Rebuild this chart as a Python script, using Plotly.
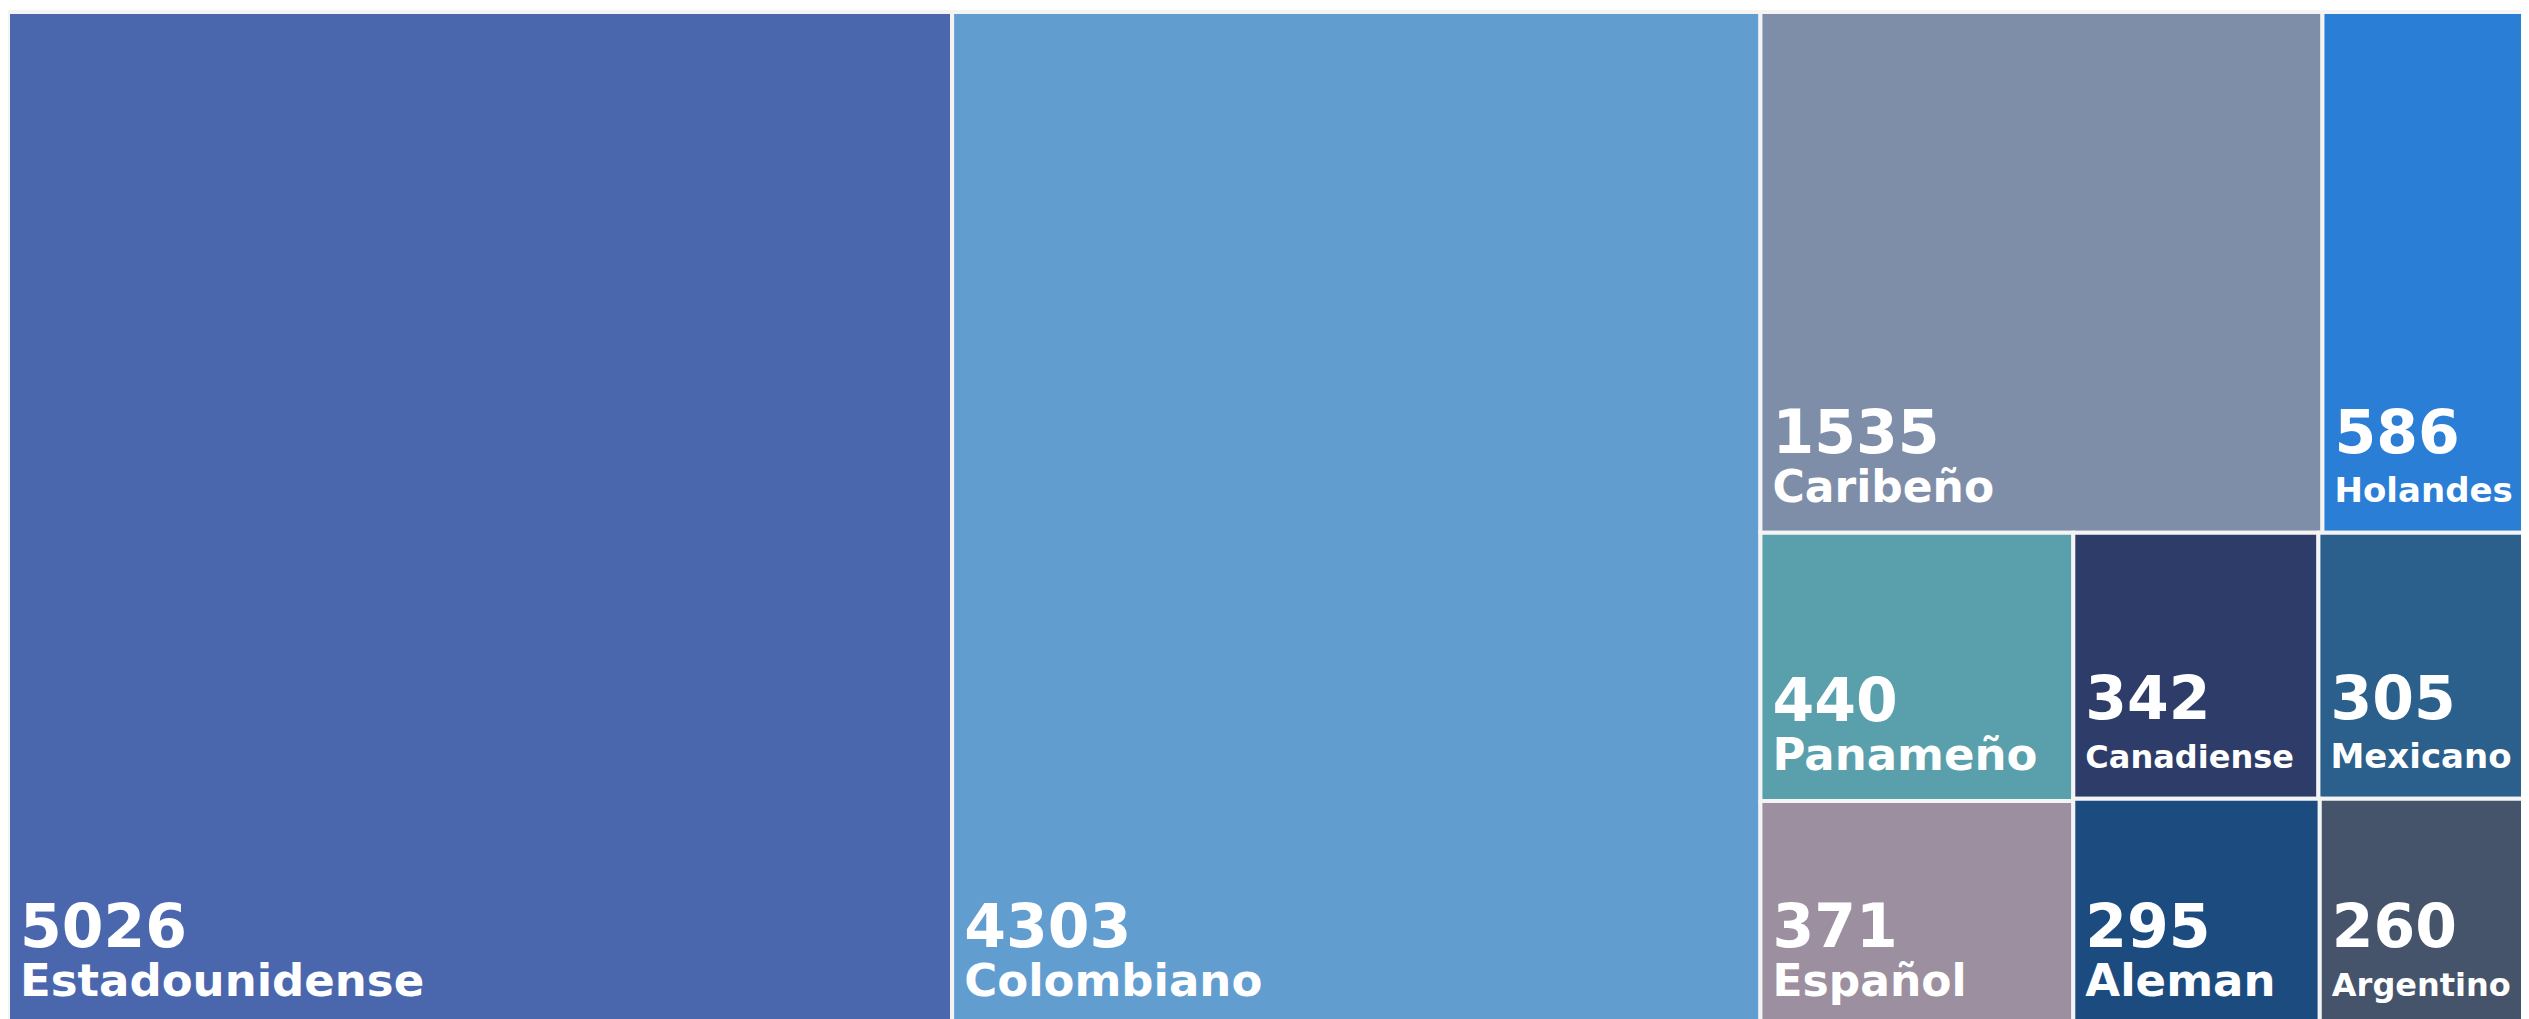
import plotly.graph_objects as go

labels = ["Estadounidense", "Colombiano", "Caribeño", "Holandes", "Panameño",
          "Canadiense", "Mexicano", "Español", "Aleman", "Argentino"]
values = [5026, 4303, 1535, 586, 440, 342, 305, 371, 295, 260]
parents = [""] * len(labels)

# styles (kept apart from the data)
colors = ["#4A67AE", "#629DD0", "#7F8EA8", "#2B7ED6", "#5AA0AC",
          "#2D3C68", "#2B5F8C", "#9C8FA0", "#1C4B80", "#45546B"]
label_sizes = [45, 45, 44, 34, 45, 32, 34, 44, 45, 32]
value_size = 60
indent = "<span style='font-size:26px'>&nbsp;</span>"
blank = "<span style='font-size:12px'>&nbsp;</span>"

templates = [
    f"{indent}<span style='font-size:{value_size}px'>%{{value}}</span><br>{blank}<br>"
    f"{indent}<span style='font-size:{ls}px'>%{{label}}</span><br>{blank}"
    for ls in label_sizes
]

fig = go.Figure(go.Treemap(
    labels=labels,
    parents=parents,
    values=values,
    sort=True,
    tiling=dict(packing="squarify", squarifyratio=1.618034, pad=0),
    marker=dict(colors=colors, line=dict(color="#f4f4f4", width=4),
                pad=dict(t=0, l=0, r=0, b=0)),
    texttemplate=templates,
    textposition="bottom left",
    textfont=dict(family="DejaVu Sans", size=19, color="#ffffff", weight="bold"),
    pathbar=dict(visible=False),
    hoverinfo="skip",
    domain=dict(x=[0, 1], y=[0, 1]),
))

fig.update_layout(
    width=2529, height=1019,
    margin=dict(l=0, r=0, t=4, b=0),
    paper_bgcolor="#ffffff",
    plot_bgcolor="#ffffff",
)

fig.write_html("out.html")
